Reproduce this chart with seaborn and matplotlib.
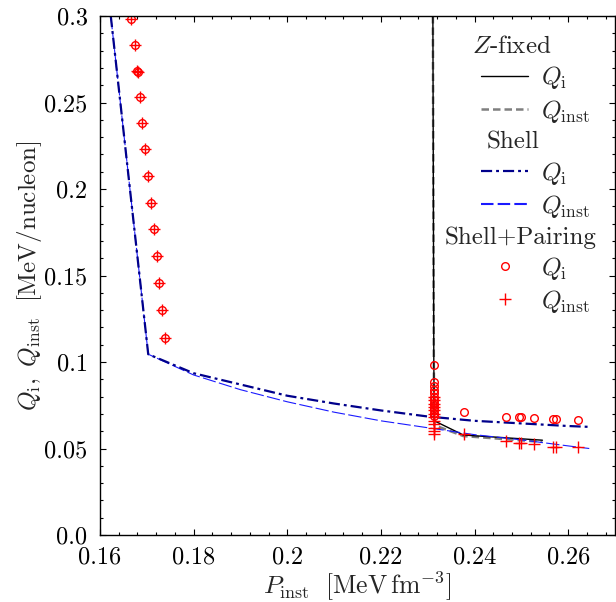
import matplotlib
matplotlib.use("Agg")
import matplotlib.pyplot as plt
import seaborn as sns
import pandas as pd
from matplotlib.lines import Line2D

# ---------------- data ----------------
# Shell model (two curves)
shell_x = [0.1623, 0.1703, 0.18, 0.19, 0.20, 0.21, 0.22, 0.23, 0.24, 0.25, 0.26, 0.2645]
shell_qi = [0.300, 0.1045, 0.0935, 0.087, 0.0805, 0.0760, 0.0720, 0.0685, 0.0660, 0.0645, 0.0630, 0.0625]
shell_qinst = [0.300, 0.1045, 0.0925, 0.0840, 0.0770, 0.0710, 0.0660, 0.0620, 0.0580, 0.0550, 0.0515, 0.0500]

# Z-fixed model
zf_x = [0.2311, 0.2312, 0.2313, 0.2314, 0.2376, 0.2545]
zf_qi = [0.300, 0.200, 0.100, 0.0660, 0.0578, 0.0548]
zf_qinst = [0.300, 0.200, 0.100, 0.0635, 0.0572, 0.0538]

# Shell+Pairing points
sp_left_x = [0.16667, 0.1674, 0.1680, 0.1681, 0.16846, 0.16896, 0.16966, 0.17023,
             0.17080, 0.17144, 0.17207, 0.17265, 0.17329, 0.17399]
sp_left_q = [0.298, 0.283, 0.268, 0.2675, 0.253, 0.238, 0.223, 0.2075,
             0.192, 0.1767, 0.1613, 0.1457, 0.1301, 0.1141]
sp_col_qi_x = [0.2313] * 13
sp_col_qi = [0.098, 0.0885, 0.086, 0.084, 0.082, 0.080, 0.078, 0.0765, 0.075, 0.0735, 0.072, 0.0705, 0.069]
sp_col_qinst_x = [0.2313] * 12
sp_col_qinst = [0.080, 0.078, 0.076, 0.074, 0.072, 0.070, 0.068, 0.066, 0.064, 0.062, 0.060, 0.0585]
sp_right_x = [0.2378, 0.2467, 0.2496, 0.2500, 0.2527, 0.2567, 0.2574, 0.2620]
sp_right_qi = [0.0709, 0.0684, 0.0680, 0.0680, 0.0674, 0.0668, 0.0668, 0.0665]
sp_right_qinst = [0.0582, 0.0543, 0.0530, 0.0530, 0.0524, 0.0510, 0.0510, 0.0507]

x_ticks = [0.16, 0.18, 0.20, 0.22, 0.24, 0.26]
x_ticklabels = ["0.16", "0.18", "0.2", "0.22", "0.24", "0.26"]
y_ticks = [0.0, 0.05, 0.10, 0.15, 0.20, 0.25, 0.30]
y_ticklabels = ["0.0", "0.05", "0.1", "0.15", "0.2", "0.25", "0.3"]

# ---------------- style ----------------
sns.set_theme(style="ticks")
plt.rcParams.update({
    "font.family": ["cmr10"],
    "mathtext.fontset": "cm",
    "axes.formatter.use_mathtext": True,
    "axes.unicode_minus": False,
    "axes.linewidth": 1.0,
    "axes.edgecolor": "black",
    "xtick.direction": "in",
    "ytick.direction": "in",
    "xtick.top": True,
    "ytick.right": True,
    "xtick.minor.visible": True,
    "ytick.minor.visible": True,
    "xtick.major.size": 4.5,
    "ytick.major.size": 4.5,
    "xtick.minor.size": 2.5,
    "ytick.minor.size": 2.5,
    "xtick.major.width": 0.8,
    "ytick.major.width": 0.8,
    "xtick.minor.width": 0.8,
    "ytick.minor.width": 0.8,
    "xtick.color": "black",
    "ytick.color": "black",
})

fig = plt.figure(figsize=(6.16, 6.02), dpi=100)
ax = fig.add_axes([100 / 616, 1 - 535 / 602, 515 / 616, 519 / 602])

# Z-fixed
df_zf = pd.DataFrame({"x": zf_x, "qi": zf_qi, "qinst": zf_qinst})
sns.lineplot(data=df_zf, x="x", y="qinst", ax=ax, estimator=None, sort=False,
             color="#7f7f7f", lw=1.8, linestyle=(0, (3.0, 1.6)))
sns.lineplot(data=df_zf, x="x", y="qi", ax=ax, estimator=None, sort=False,
             color="black", lw=1.0)

# Shell
df_sh = pd.DataFrame({"x": shell_x, "qi": shell_qi, "qinst": shell_qinst})
sns.lineplot(data=df_sh, x="x", y="qinst", ax=ax, estimator=None, sort=False,
             color="#1a1aff", lw=0.8, linestyle=(0, (12, 3)))
sns.lineplot(data=df_sh, x="x", y="qi", ax=ax, estimator=None, sort=False,
             color="#00008b", lw=1.6, linestyle=(0, (5, 1.8, 1.3, 1.8)))

# Shell+Pairing
qi_x = sp_left_x + sp_col_qi_x + sp_right_x
qi_y = sp_left_q + sp_col_qi + sp_right_qi
qinst_x = sp_left_x + sp_col_qinst_x + sp_right_x
qinst_y = sp_left_q + sp_col_qinst + sp_right_qinst
df_qi = pd.DataFrame({"x": qi_x, "y": qi_y})
df_qinst = pd.DataFrame({"x": qinst_x, "y": qinst_y})
sns.lineplot(data=df_qi, x="x", y="y", ax=ax, estimator=None, sort=False,
             linestyle="none", marker="o", ms=5.5, mfc="none", mec="red", mew=1.0)
sns.lineplot(data=df_qinst, x="x", y="y", ax=ax, estimator=None, sort=False,
             linestyle="none", marker="+", ms=8.5, mec="red", mew=1.0)

ax.set_xlim(0.16, 0.27)
ax.set_ylim(0.0, 0.30)
ax.set_xticks(x_ticks)
ax.set_xticklabels(x_ticklabels)
ax.set_yticks(y_ticks)
ax.set_yticklabels(y_ticklabels)
ax.xaxis.set_minor_locator(matplotlib.ticker.MultipleLocator(0.004))
ax.yaxis.set_minor_locator(matplotlib.ticker.MultipleLocator(0.01))
ax.tick_params(which="both", labelsize=17.5)
ax.tick_params(axis="y", which="both", pad=9)
ax.tick_params(axis="x", which="both", pad=8)

ax.set_xlabel(r"$P_\mathrm{inst}\ \ [\mathrm{MeV\,fm^{-3}}]$", fontsize=18.5, labelpad=1)
ax.set_ylabel(r"$Q_\mathrm{i},\ Q_\mathrm{inst}\ \ [\mathrm{MeV/nucleon}]$", fontsize=18, labelpad=0)

# Legend
blank = Line2D([], [], linestyle="none")
handles = [
    blank,
    Line2D([], [], color="black", lw=1.0),
    Line2D([], [], color="#7f7f7f", lw=1.8, linestyle=(0, (3.0, 1.6))),
    blank,
    Line2D([], [], color="#00008b", lw=1.6, linestyle=(0, (5, 1.8, 1.3, 1.8))),
    Line2D([], [], color="#1a1aff", lw=1.5, linestyle=(0, (6, 2))),
    blank,
    Line2D([], [], linestyle="none", marker="o", ms=5.5, mfc="none", mec="red", mew=1.0),
    Line2D([], [], linestyle="none", marker="+", ms=8.5, mec="red", mew=1.0),
]
labels = [" ", r"$Q_\mathrm{i}$", r"$Q_\mathrm{inst}$",
          " ", r"$Q_\mathrm{i}$", r"$Q_\mathrm{inst}$",
          " ", r"$Q_\mathrm{i}$", r"$Q_\mathrm{inst}$"]
leg = ax.legend(handles, labels, loc="upper right", frameon=False, fontsize=18,
                handlelength=1.9, handletextpad=0.5, labelspacing=0.25,
                borderaxespad=0.3, bbox_to_anchor=(0.985, 0.996))

fig.canvas.draw()
titles = [(0, r"$Z$-fixed", 512), (3, "Shell", 513), (6, "Shell+Pairing", 521)]
texts = leg.get_texts()
inv = ax.transAxes.inverted()
for idx, name, xc in titles:
    bb = texts[idx].get_window_extent()
    yc = (bb.y0 + bb.y1) / 2
    xa, ya = inv.transform((xc, yc))
    ax.text(xa, ya, name, transform=ax.transAxes, ha="center", va="center", fontsize=18)

fig.savefig("out.png", dpi=100)
